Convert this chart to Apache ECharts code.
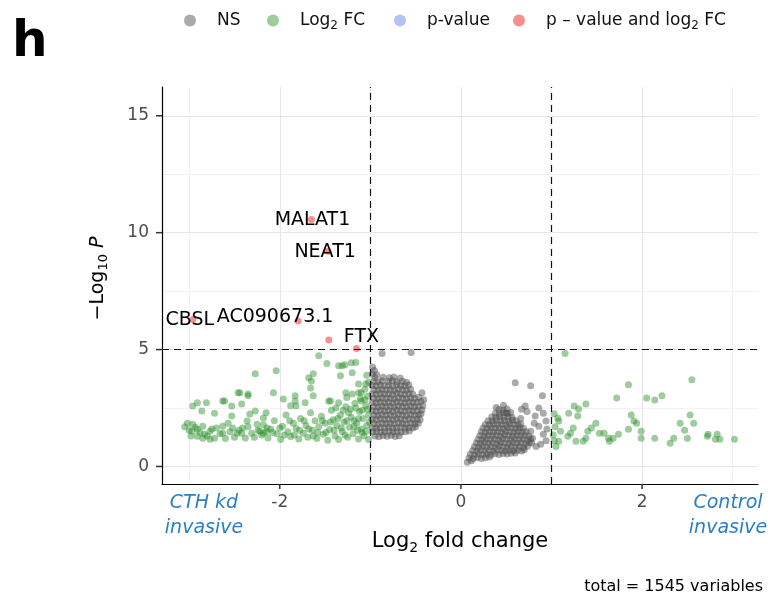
<!DOCTYPE html>
<html>
<head>
<meta charset="utf-8">
<script src="https://cdn.jsdelivr.net/npm/echarts@6/dist/echarts.min.js"></script>
<style>html,body{margin:0;padding:0;background:#fff}#c{width:779px;height:595px}</style>
</head>
<body>
<div id="c"></div>
<script>
// ---------------- DATA ----------------
const seriesNames = ['NS', 'Log2 FC', 'p-value', 'p – value and log2 FC'];
const xTickLabels = [-2, 0, 2];
const yTickLabels = [0, 5, 10, 15];
const fcCutoff = 1;
const pCutoff = 5;

// NS: |log2FC| < 1 and -log10 p < 5
const nsPoints = [
[-0.95,1.30],[-0.905,1.27],[-0.86,1.32],[-0.815,1.29],[-0.77,1.33],[-0.725,1.28],[-0.68,1.31],
[-0.975,1.47],[-0.93,1.50],[-0.885,1.46],[-0.84,1.49],[-0.795,1.51],[-0.75,1.47],[-0.705,1.50],[-0.66,1.46],[-0.615,1.49],[-0.57,1.52],
[-0.98,1.66],[-0.935,1.63],[-0.89,1.67],[-0.845,1.65],[-0.80,1.68],[-0.755,1.64],[-0.71,1.66],[-0.665,1.69],[-0.62,1.65],[-0.575,1.67],[-0.53,1.64],[-0.50,1.70],
[-0.96,1.84],[-0.915,1.81],[-0.87,1.86],[-0.825,1.83],[-0.78,1.85],[-0.735,1.82],[-0.69,1.87],[-0.645,1.84],[-0.60,1.81],[-0.555,1.86],[-0.51,1.83],[-0.47,1.85],
[-0.98,2.02],[-0.935,2.00],[-0.89,2.04],[-0.845,2.01],[-0.80,2.03],[-0.755,1.99],[-0.71,2.05],[-0.665,2.02],[-0.62,2.00],[-0.575,2.04],[-0.53,2.01],[-0.485,2.03],[-0.45,2.00],
[-0.96,2.20],[-0.915,2.18],[-0.87,2.22],[-0.825,2.19],[-0.78,2.21],[-0.735,2.17],[-0.69,2.23],[-0.645,2.20],[-0.60,2.18],[-0.555,2.22],[-0.51,2.19],[-0.465,2.21],[-0.44,2.25],
[-0.98,2.38],[-0.935,2.36],[-0.89,2.40],[-0.845,2.37],[-0.80,2.39],[-0.755,2.35],[-0.71,2.41],[-0.665,2.38],[-0.62,2.36],[-0.575,2.40],[-0.53,2.37],[-0.485,2.39],[-0.43,2.42],
[-0.96,2.56],[-0.915,2.54],[-0.87,2.58],[-0.825,2.55],[-0.78,2.57],[-0.735,2.53],[-0.69,2.59],[-0.645,2.56],[-0.60,2.54],[-0.555,2.58],[-0.51,2.55],[-0.465,2.57],[-0.42,2.60],
[-0.98,2.74],[-0.935,2.72],[-0.89,2.76],[-0.845,2.73],[-0.80,2.75],[-0.755,2.71],[-0.71,2.77],[-0.665,2.74],[-0.62,2.72],[-0.575,2.76],[-0.53,2.73],[-0.485,2.75],[-0.44,2.78],
[-0.96,2.92],[-0.915,2.90],[-0.87,2.94],[-0.825,2.91],[-0.78,2.93],[-0.735,2.89],[-0.69,2.95],[-0.645,2.92],[-0.60,2.90],[-0.555,2.94],[-0.51,2.91],[-0.465,2.96],
[-0.98,3.10],[-0.935,3.08],[-0.89,3.12],[-0.845,3.09],[-0.80,3.11],[-0.755,3.07],[-0.71,3.13],[-0.665,3.10],[-0.62,3.08],[-0.575,3.12],[-0.53,3.09],
[-0.96,3.28],[-0.915,3.26],[-0.87,3.30],[-0.825,3.27],[-0.78,3.29],[-0.735,3.25],[-0.69,3.31],[-0.645,3.28],[-0.60,3.26],[-0.555,3.30],
[-0.98,3.46],[-0.935,3.44],[-0.89,3.48],[-0.845,3.45],[-0.80,3.47],[-0.755,3.43],[-0.71,3.49],[-0.665,3.46],[-0.62,3.44],[-0.575,3.48],
[-0.96,3.64],[-0.915,3.62],[-0.87,3.66],[-0.80,3.63],[-0.755,3.67],[-0.71,3.62],[-0.645,3.65],[-0.60,3.60],
[-0.95,3.80],[-0.86,3.82],[-0.79,3.79],[-0.74,3.83],[-0.67,3.78],
[-0.98,3.95],[-0.955,4.10],[-0.975,4.25],[-0.93,3.92],
[-0.87,4.83],[-0.55,4.87],[-0.41,2.85],[-0.43,3.15],
[0.07,0.18],[0.115,0.24],
[0.09,0.36],[0.135,0.33],[0.18,0.38],[0.225,0.34],[0.27,0.37],[0.315,0.40],
[0.105,0.52],[0.15,0.49],[0.195,0.54],[0.24,0.50],[0.285,0.53],[0.33,0.49],[0.375,0.54],[0.42,0.51],[0.465,0.55],[0.51,0.53],[0.555,0.57],[0.60,0.58],
[0.13,0.68],[0.175,0.66],[0.22,0.70],[0.265,0.67],[0.31,0.69],[0.355,0.65],[0.40,0.71],[0.445,0.68],[0.49,0.66],[0.535,0.70],[0.58,0.67],[0.625,0.69],[0.67,0.66],[0.70,0.72],
[0.15,0.84],[0.195,0.82],[0.24,0.86],[0.285,0.83],[0.33,0.85],[0.375,0.81],[0.42,0.87],[0.465,0.84],[0.51,0.82],[0.555,0.86],[0.60,0.83],[0.645,0.85],[0.69,0.81],[0.735,0.86],
[0.17,1.00],[0.215,0.98],[0.26,1.02],[0.305,0.99],[0.35,1.01],[0.395,0.97],[0.44,1.03],[0.485,1.00],[0.53,0.98],[0.575,1.02],[0.62,0.99],[0.665,1.01],[0.71,0.97],[0.755,1.03],[0.78,1.00],
[0.19,1.16],[0.235,1.14],[0.28,1.18],[0.325,1.15],[0.37,1.17],[0.415,1.13],[0.46,1.19],[0.505,1.16],[0.55,1.14],[0.595,1.18],[0.64,1.15],[0.685,1.17],[0.73,1.13],[0.77,1.18],
[0.21,1.32],[0.255,1.30],[0.30,1.34],[0.345,1.31],[0.39,1.33],[0.435,1.29],[0.48,1.35],[0.525,1.32],[0.57,1.30],[0.615,1.34],[0.66,1.31],[0.705,1.33],[0.75,1.29],
[0.225,1.48],[0.27,1.46],[0.315,1.50],[0.36,1.47],[0.405,1.49],[0.45,1.45],[0.495,1.51],[0.54,1.48],[0.585,1.46],[0.63,1.50],[0.675,1.47],[0.72,1.49],
[0.245,1.64],[0.29,1.62],[0.335,1.66],[0.38,1.63],[0.425,1.65],[0.47,1.61],[0.515,1.67],[0.56,1.64],[0.605,1.62],[0.65,1.66],[0.69,1.63],
[0.27,1.80],[0.315,1.78],[0.36,1.82],[0.405,1.79],[0.45,1.81],[0.495,1.77],[0.54,1.83],[0.585,1.80],[0.63,1.78],[0.66,1.82],
[0.30,1.96],[0.345,1.94],[0.39,1.98],[0.435,1.95],[0.48,1.97],[0.525,1.93],[0.57,1.99],[0.61,1.96],
[0.34,2.12],[0.385,2.10],[0.43,2.14],[0.475,2.11],[0.52,2.13],[0.565,2.09],
[0.38,2.28],[0.425,2.26],[0.47,2.30],[0.515,2.27],[0.55,2.31],
[0.42,2.44],[0.465,2.42],[0.51,2.46],
[0.39,2.52],[0.47,2.62],[0.50,2.30],
[0.60,3.58],[0.77,3.45],[0.90,3.02],[0.71,2.59],[0.86,2.50],[0.82,2.16],[0.91,2.28],[0.94,1.94],[0.86,1.72],[0.77,1.51],
[0.91,1.38],[0.79,1.21],[0.94,1.10],[0.88,0.95],[0.83,0.85],[0.81,1.85],[0.73,2.35],[0.67,2.45],[0.95,1.60],[0.66,2.05]
];

// Log2 FC: |log2FC| >= 1, -log10 p < 5
const fcPoints = [
[-2.96,2.59],[-2.91,2.72],[-2.81,2.72],[-2.86,2.37],[-2.72,2.28],[-2.63,2.80],[-2.53,2.59],[-2.44,3.15],[-2.35,3.02],[-2.42,2.67],
[-3.02,1.85],[-2.96,1.81],[-2.97,1.51],[-2.91,1.59],[-2.85,1.72],[-2.83,1.38],[-2.77,1.51],[-2.72,1.21],[-2.70,1.64],[-2.63,1.72],
[-2.63,1.42],[-2.57,1.85],[-2.53,2.16],[-2.52,1.64],[-2.47,1.42],[-2.41,1.64],[-2.36,1.94],[-2.33,2.24],[-2.27,2.37],[-2.25,1.81],
[-2.22,1.51],[-2.18,2.07],[-2.14,1.64],[-2.18,1.42],[-2.31,1.42],[-2.42,1.42],[-2.85,1.21],[-2.91,1.29],[-2.77,1.16],
[-2.27,3.97],[-2.04,4.09],[-2.07,3.15],[-2.46,3.15],[-2.35,3.10],[-2.61,2.80],[-1.96,2.89],[-1.83,3.02],[-1.72,2.72],[-1.63,3.97],
[-1.57,4.74],[-1.48,4.40],[-1.35,4.31],[-1.21,4.44],[-1.16,4.45],[-1.33,3.88],[-1.65,3.66],[-1.13,3.53],[-1.27,3.15],[-1.13,3.15],
[-1.46,2.80],[-1.38,2.50],[-1.28,4.35],[-1.68,3.79],[-1.20,4.01],[-1.05,3.53],[-1.66,3.36],[-1.63,3.02],[-1.10,3.15],[-1.83,2.80],
[-1.82,2.59],[-1.44,2.80],[-1.35,2.72],[-1.10,2.80],[-1.88,2.60],[-2.15,2.30],[-1.31,4.31],
[-2.20,1.35],[-2.18,1.78],[-2.13,1.22],[-2.10,1.60],[-2.06,1.95],[-2.03,1.40],[-1.99,1.15],[-1.97,1.72],[-1.93,2.20],[-1.91,1.48],
[-1.88,1.28],[-1.85,1.85],[-1.82,1.62],[-1.79,1.18],[-1.77,2.05],[-1.74,1.42],[-1.71,1.75],[-1.69,1.25],[-1.66,2.30],[-1.64,1.55],
[-1.61,1.95],[-1.59,1.20],[-1.57,1.70],[-1.54,2.15],[-1.52,1.38],[-1.50,1.85],[-1.47,1.12],[-1.45,1.58],[-1.43,2.40],[-1.41,2.00],
[-1.39,1.30],[-1.37,1.75],[-1.35,1.15],[-1.33,2.20],[-1.31,1.50],[-1.29,1.90],[-1.27,2.55],[-1.25,1.25],[-1.23,1.68],[-1.21,2.10],
[-1.19,1.40],[-1.17,2.70],[-1.15,1.85],[-1.13,1.18],[-1.12,2.35],[-1.10,1.60],[-1.08,2.05],[-1.07,1.30],[-1.05,2.60],[-1.04,1.75],
[-1.02,1.15],[-1.02,2.20],[-1.03,3.00],[-1.06,2.85],[-1.09,1.45],[-1.14,1.55],[-1.18,1.95],[-1.24,2.30],[-1.28,1.35],[-1.32,1.65],
[-1.36,2.05],[-1.40,1.55],[-1.44,1.90],[-1.49,1.45],[-1.53,1.95],[-1.58,1.45],[-1.63,1.30],[-1.68,1.60],[-1.73,1.95],[-1.78,1.55],
[-1.84,1.35],[-1.89,1.95],[-1.95,1.35],[-2.00,1.65],[-2.08,1.45],[-2.15,1.50],[-2.24,1.55],[-2.28,1.25],[-2.35,1.70],[-2.38,1.22],
[-2.45,1.55],[-2.50,1.25],[-2.55,1.48],[-2.60,1.20],[-2.66,1.40],[-2.75,1.60],[-2.80,1.30],[-2.88,1.45],[-2.93,1.68],[-3.00,1.55],
[-3.05,1.70],[-2.98,1.30],
[-1.26,2.95],[-1.20,3.10],[-1.16,2.50],[-1.11,2.90],[-1.06,3.30],[-1.03,2.45],[-1.01,1.90],[-1.05,1.50],[-1.09,2.40],[-1.13,2.05],
[-1.18,1.70],[-1.22,2.45],[-1.26,1.95],[-1.30,2.40],[-1.02,3.60],[-1.04,3.90],
[1.15,4.83],[1.85,3.49],[1.72,2.93],[2.05,2.93],[2.14,2.84],[2.22,3.02],[2.55,3.71],[2.53,2.20],[2.57,1.85],[2.42,1.85],
[2.47,1.55],[2.50,1.21],[2.72,1.29],[2.83,1.38],[2.86,1.16],[2.35,1.21],[2.31,0.99],[2.14,1.21],[1.99,1.21],[1.99,1.51],
[1.94,1.85],[1.88,2.20],[1.91,1.94],[1.85,1.59],[1.74,1.38],[1.68,1.21],[1.63,1.21],[1.58,1.42],[1.49,1.85],[1.44,1.64],
[1.40,1.51],[1.38,1.21],[1.35,1.08],[1.27,1.08],[1.21,1.42],[1.24,1.64],[1.19,2.28],[1.25,2.59],[1.30,2.46],[1.38,2.67],
[1.29,2.16],[1.08,1.94],[1.10,1.51],[1.08,1.08],[1.07,2.07],[1.18,1.29],[1.53,1.42],[1.64,1.08],[2.73,1.38],[2.81,1.16],
[3.02,1.16],[1.03,2.25],[1.04,1.70],[1.02,1.35],[1.05,0.85],[1.03,1.10]
];

// p-value only: none in this plot
const pPoints = [];

// p-value and Log2 FC
const bothNames = ['MALAT1', 'NEAT1', 'CBSL', 'AC090673.1', '', 'FTX'];
const bothX = [-1.65, -1.466, -2.959, -1.798, -1.458, -1.153];
const bothY = [10.56, 9.21, 6.29, 6.22, 5.41, 5.05];

// ---------------- LAYOUT / STYLE ----------------
const FONT = '"DejaVu Sans", "Liberation Sans", sans-serif';
const colors = ['rgba(77,77,77,0.6)', 'rgba(34,139,34,0.55)', 'rgba(65,105,225,0.5)', 'rgba(238,0,0,0.55)'];
const labelOffset = { 'MALAT1': [1, 0], 'NEAT1': [-3, 1], 'CBSL': [-3, 1], 'AC090673.1': [-23, -4], 'FTX': [5, -11] };
const legendIconCenter = [206, 289, 416, 535];

const subFmt = function (name) { return '{t|' + name.replace(/og2/g, 'og}{s|2}{t|') + '}'; };

const chart = echarts.init(document.getElementById('c'), null, { renderer: 'canvas' });

const legends = seriesNames.map(function (n, i) {
  return {
    data: [n], left: legendIconCenter[i] - 22, top: 12, padding: 0,
    icon: 'circle', itemWidth: 44, itemHeight: 12,
    selectedMode: false,
    formatter: subFmt,
    textStyle: {
      rich: {
        t: { fontSize: 17, fontFamily: FONT, color: '#111', lineHeight: 22 },
        s: { fontSize: 12, fontFamily: FONT, color: '#111', lineHeight: 12, verticalAlign: 'bottom' }
      }
    }
  };
});

const scatterBase = { type: 'scatter', symbol: 'circle', symbolSize: 7, animation: false, silent: true, emphasis: { disabled: true } };

const option = {
  backgroundColor: '#fff',
  animation: false,
  legend: legends,
  grid: { left: 162, right: 21, top: 87, bottom: 111 },
  xAxis: {
    type: 'value', min: -3.3, max: 3.28, splitNumber: 4,
    name: '{t|Log}{s|2}{t| fold change}', nameLocation: 'middle', nameGap: 45,
    nameTextStyle: { rich: {
      t: { fontSize: 21, fontFamily: FONT, color: '#000', lineHeight: 26 },
      s: { fontSize: 14, fontFamily: FONT, color: '#000', lineHeight: 14, verticalAlign: 'bottom' } } },
    axisLine: { onZero: false, lineStyle: { color: '#000', width: 1.2 } },
    axisTick: { show: false },
    axisLabel: {
      customValues: xTickLabels, margin: 0,
      formatter: function (v) { return '{tk| }\n{v|' + v + '}'; },
      rich: {
        tk: { width: 1.5, height: 5, lineHeight: 5, fontSize: 1, backgroundColor: '#333' },
        v: { fontSize: 17, fontFamily: FONT, color: '#4d4d4d', lineHeight: 28 }
      }
    },
    splitLine: { show: true, showMinLine: false, showMaxLine: false, lineStyle: { color: '#e6e6e6', width: 1 } },
    minorTick: { show: false, splitNumber: 2 },
    minorSplitLine: { show: true, lineStyle: { color: '#f2f2f2', width: 1 } }
  },
  yAxis: {
    type: 'value', min: -0.75, max: 16.23, splitNumber: 3,
    name: '{t|−Log}{s|10}{i| P}', nameLocation: 'middle', nameGap: 52, nameRotate: 90,
    nameTextStyle: { padding: [0, 0, 0, 14], rich: {
      t: { fontSize: 19, fontFamily: FONT, color: '#000', lineHeight: 24 },
      s: { fontSize: 13, fontFamily: FONT, color: '#000', lineHeight: 13, verticalAlign: 'bottom' },
      i: { fontSize: 19, fontFamily: FONT, color: '#000', fontStyle: 'italic', lineHeight: 24 } } },
    axisLine: { onZero: false, lineStyle: { color: '#000', width: 1.2 } },
    axisTick: { show: false },
    axisLabel: {
      customValues: yTickLabels, margin: 0,
      formatter: function (v) { return '{v|' + v + '}{sp| }{tk| }'; },
      rich: {
        v: { fontSize: 17, fontFamily: FONT, color: '#4d4d4d', lineHeight: 20 },
        sp: { width: 7, fontSize: 1 },
        tk: { width: 6, height: 1.5, fontSize: 1, backgroundColor: '#333' }
      }
    },
    splitLine: { show: true, showMinLine: false, showMaxLine: false, lineStyle: { color: '#e6e6e6', width: 1 } },
    minorTick: { show: false, splitNumber: 2 },
    minorSplitLine: { show: true, lineStyle: { color: '#f2f2f2', width: 1 } }
  },
  series: [
    Object.assign({}, scatterBase, {
      name: seriesNames[0], data: nsPoints, itemStyle: { color: colors[0] }, z: 2,
      markLine: {
        silent: true, animation: false, symbol: ['none', 'none'], label: { show: false },
        lineStyle: { color: '#111', width: 1.2, type: [7, 5] },
        emphasis: { disabled: true },
        data: [{ xAxis: -fcCutoff }, { xAxis: fcCutoff }, { yAxis: pCutoff }]
      }
    }),
    Object.assign({}, scatterBase, { name: seriesNames[1], data: fcPoints, itemStyle: { color: colors[1] }, z: 3 }),
    Object.assign({}, scatterBase, { name: seriesNames[2], data: pPoints, itemStyle: { color: colors[2] }, z: 3 }),
    Object.assign({}, scatterBase, {
      name: seriesNames[3], z: 4, itemStyle: { color: colors[3] },
      data: bothX.map(function (x, i) {
        const nm = bothNames[i];
        return { name: nm, value: [x, bothY[i]],
          label: { show: nm !== '', offset: labelOffset[nm] || [0, 0] } };
      }),
      label: { show: true, position: 'inside', formatter: '{b}', fontSize: 19, fontFamily: FONT,
        color: '#000', opacity: 1, textBorderWidth: 0, textShadowBlur: 0 }
    })
  ],
  graphic: [
    { type: 'text', left: 12, top: 18, style: { text: 'h', font: 'bold 50px "DejaVu Sans", sans-serif', fill: '#000' } },
    { type: 'text', style: { x: 204, y: 515.5, text: 'CTH kd\ninvasive', align: 'center', verticalAlign: 'middle',
      font: 'italic 19px "DejaVu Sans", sans-serif', lineHeight: 25, fill: '#2a7fc4' } },
    { type: 'text', style: { x: 728, y: 515.5, text: 'Control\ninvasive', align: 'center', verticalAlign: 'middle',
      font: 'italic 19px "DejaVu Sans", sans-serif', lineHeight: 25, fill: '#2a7fc4' } },
    { type: 'text', style: { x: 763, y: 587, text: 'total = 1545 variables', align: 'right', verticalAlign: 'middle',
      font: '16px "DejaVu Sans", sans-serif', fill: '#000' } }
  ]
};
chart.setOption(option);
</script>
</body>
</html>
